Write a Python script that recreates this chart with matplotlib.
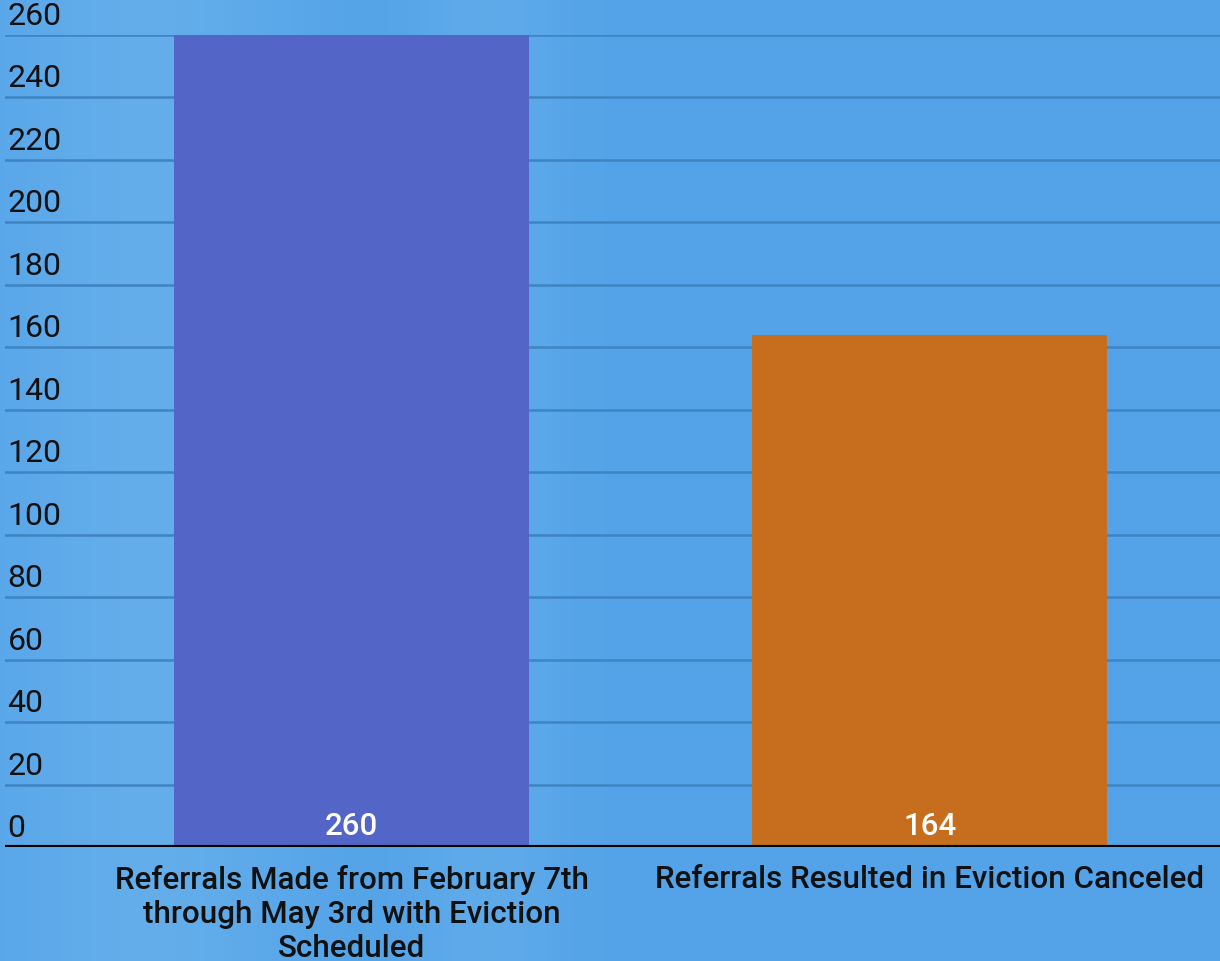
import numpy as np
import matplotlib
matplotlib.use('agg')
import matplotlib.pyplot as plt
from matplotlib.transforms import blended_transform_factory, offset_copy

# chart data
categories = ["Referrals Made from February 7th\nthrough May 3rd with Eviction\nScheduled",
              "Referrals Resulted in Eviction Canceled"]
values = [260, 164]
bar_colours = ['#5465c8', '#c66e1e']
y_ticks = list(range(0, 261, 20))

plt.rcParams['font.family'] = ['Roboto', 'DejaVu Sans']

fig = plt.figure(figsize=(12.2, 9.62), dpi=100)

# soft blue backdrop with a few lighter vertical streaks
bg = fig.add_axes([0, 0, 1, 1], zorder=-10)
cols = np.linspace(0, 1, 400)
shade = 0.5 + 0.5 * np.exp(-((cols - 0.12) / 0.12) ** 2) + 0.35 * np.exp(-((cols - 0.4) / 0.06) ** 2)
light = np.array([0.39, 0.68, 0.92])
dark = np.array([0.33, 0.64, 0.91])
rgb = dark + (light - dark) * (shade[:, None] - 0.5) / 0.5
rgb = np.clip(rgb, 0, 1)
bg.imshow(rgb[None, :, :], aspect='auto', extent=[0, 1, 0, 1])
bg.axis('off')

ax = fig.add_axes([5 / 1220, 1 - 848 / 962, 1 - 5 / 1220, (848 - 35.5) / 962])
ax.patch.set_alpha(0)

x = np.arange(len(values))
ax.bar(x, values, width=0.614, color=bar_colours, zorder=2)
ax.set_xlim(-0.600, 1.502)
ax.set_ylim(0, 260)

for yv in y_ticks[1:]:
    ax.axhline(yv, color='#3f84c2', lw=1.8, zorder=1)
ax.axhline(0, color='black', lw=3, zorder=3)

for s in ax.spines.values():
    s.set_visible(False)
ax.set_yticks([])
ax.set_xticks(x)
ax.set_xticklabels(categories, fontsize=22.6, fontweight='medium', color='#111111',
                   linespacing=1.22)
ax.tick_params(axis='x', length=0, pad=12)

# y labels sit just above each gridline
tr = offset_copy(blended_transform_factory(ax.transAxes, ax.transData), fig=fig, x=0, y=3.5, units='points')
for yv in y_ticks:
    ax.text(0.002, yv, str(yv), transform=tr, ha='left', va='bottom',
            fontsize=23, color='#111111')

# value labels inside bars near the base
tr2 = offset_copy(ax.transData, fig=fig, x=0, y=5, units='points')
for xi, v in zip(x, values):
    ax.text(xi, 0, str(v), transform=tr2, ha='center', va='bottom',
            fontsize=22.5, fontweight='medium', color='white', zorder=4)

plt.savefig('out.png', dpi=100)
